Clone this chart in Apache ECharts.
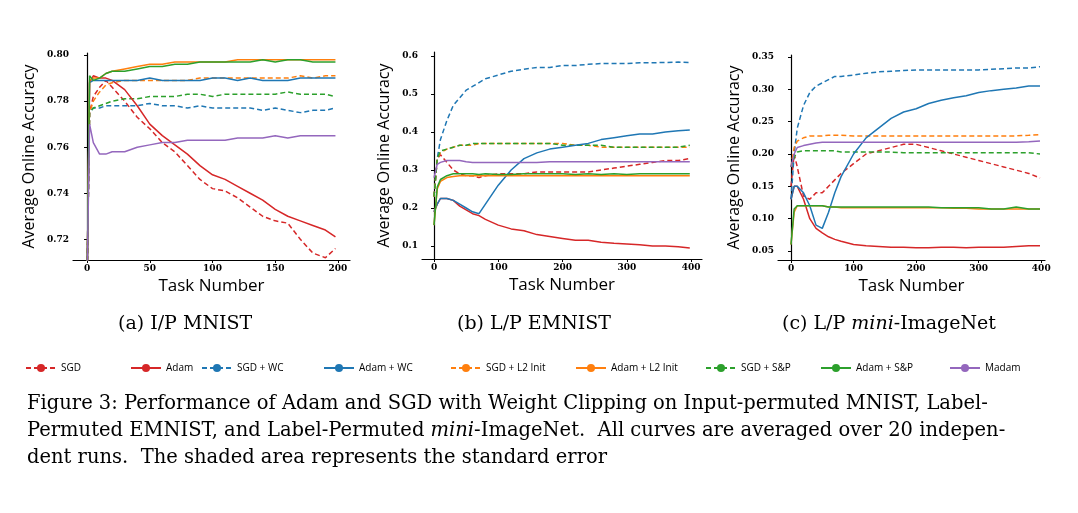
<!DOCTYPE html>
<html>
<head>
<meta charset="utf-8">
<script src="https://cdn.jsdelivr.net/npm/echarts@6/dist/echarts.min.js"></script>
<style>body{margin:0;background:#fff}#main{width:1078px;height:513px}</style>
</head>
<body>
<div id="main"></div>
<script>
var names = ["SGD", "Adam", "SGD + WC", "Adam + WC", "SGD + L2 Init", "Adam + L2 Init", "SGD + S&P", "Adam + S&P", "Madam"];
var colors = ["#d62728", "#d62728", "#1f77b4", "#1f77b4", "#ff7f0e", "#ff7f0e", "#2ca02c", "#2ca02c", "#9467bd"];
var dashed = [true, false, true, false, true, false, true, false, false];

// (a) I/P MNIST
var xA = [0, 2, 5, 10, 15, 20, 30, 40, 50, 60, 70, 80, 90, 100, 110, 120, 130, 140, 150, 160, 170, 180, 190, 198];
var dataA = [
    [0.70, 0.775, 0.782, 0.786, 0.789, 0.786, 0.780, 0.773, 0.768, 0.762, 0.758, 0.752, 0.746, 0.742, 0.741, 0.738, 0.734, 0.730, 0.728, 0.727, 0.720, 0.714, 0.712, 0.716],
    [0.70, 0.788, 0.791, 0.790, 0.790, 0.789, 0.785, 0.778, 0.770, 0.765, 0.761, 0.757, 0.752, 0.748, 0.746, 0.743, 0.740, 0.737, 0.733, 0.730, 0.728, 0.726, 0.724, 0.721],
    [0.70, 0.775, 0.777, 0.777, 0.778, 0.778, 0.778, 0.778, 0.779, 0.778, 0.778, 0.777, 0.778, 0.777, 0.777, 0.777, 0.777, 0.776, 0.777, 0.776, 0.775, 0.776, 0.776, 0.777],
    [0.70, 0.788, 0.789, 0.789, 0.789, 0.789, 0.789, 0.789, 0.790, 0.789, 0.789, 0.789, 0.789, 0.790, 0.790, 0.789, 0.790, 0.789, 0.789, 0.789, 0.790, 0.790, 0.790, 0.790],
    [0.70, 0.775, 0.780, 0.784, 0.787, 0.788, 0.789, 0.789, 0.789, 0.789, 0.789, 0.789, 0.790, 0.790, 0.790, 0.790, 0.790, 0.790, 0.790, 0.790, 0.791, 0.790, 0.791, 0.791],
    [0.70, 0.789, 0.790, 0.790, 0.792, 0.793, 0.794, 0.795, 0.796, 0.796, 0.797, 0.797, 0.797, 0.797, 0.797, 0.798, 0.798, 0.798, 0.798, 0.798, 0.798, 0.798, 0.798, 0.798],
    [0.70, 0.775, 0.777, 0.778, 0.779, 0.780, 0.781, 0.781, 0.782, 0.782, 0.782, 0.783, 0.783, 0.782, 0.783, 0.783, 0.783, 0.783, 0.783, 0.784, 0.783, 0.783, 0.783, 0.782],
    [0.70, 0.791, 0.789, 0.790, 0.792, 0.793, 0.793, 0.794, 0.795, 0.795, 0.796, 0.796, 0.797, 0.797, 0.797, 0.797, 0.797, 0.798, 0.797, 0.798, 0.798, 0.797, 0.797, 0.797],
    [0.70, 0.770, 0.762, 0.757, 0.757, 0.758, 0.758, 0.760, 0.761, 0.762, 0.762, 0.763, 0.763, 0.763, 0.763, 0.764, 0.764, 0.764, 0.765, 0.764, 0.765, 0.765, 0.765, 0.765]
];

// (b) L/P EMNIST and (c) L/P mini-ImageNet share task points
var xB = [0, 5, 10, 20, 30, 40, 50, 60, 70, 80, 100, 120, 140, 160, 180, 200, 220, 240, 260, 280, 300, 320, 340, 360, 380, 398];
var dataB = [
    [0.23, 0.33, 0.34, 0.32, 0.30, 0.29, 0.285, 0.285, 0.28, 0.285, 0.29, 0.29, 0.29, 0.295, 0.295, 0.295, 0.295, 0.295, 0.30, 0.305, 0.31, 0.315, 0.32, 0.325, 0.325, 0.33],
    [0.19, 0.21, 0.225, 0.225, 0.22, 0.205, 0.195, 0.185, 0.18, 0.17, 0.155, 0.145, 0.14, 0.13, 0.125, 0.12, 0.115, 0.115, 0.11, 0.107, 0.105, 0.103, 0.10, 0.10, 0.098, 0.095],
    [0.23, 0.33, 0.38, 0.43, 0.47, 0.49, 0.51, 0.52, 0.53, 0.54, 0.55, 0.56, 0.565, 0.57, 0.57, 0.575, 0.575, 0.578, 0.58, 0.58, 0.58, 0.582, 0.582, 0.583, 0.584, 0.583],
    [0.19, 0.21, 0.225, 0.225, 0.22, 0.21, 0.20, 0.19, 0.185, 0.21, 0.26, 0.30, 0.33, 0.345, 0.355, 0.36, 0.365, 0.37, 0.38, 0.385, 0.39, 0.395, 0.395, 0.40, 0.403, 0.405],
    [0.23, 0.33, 0.345, 0.355, 0.36, 0.365, 0.365, 0.365, 0.37, 0.37, 0.37, 0.37, 0.37, 0.37, 0.37, 0.37, 0.365, 0.365, 0.36, 0.36, 0.36, 0.36, 0.36, 0.36, 0.36, 0.36],
    [0.155, 0.25, 0.27, 0.28, 0.283, 0.285, 0.285, 0.285, 0.285, 0.285, 0.285, 0.285, 0.285, 0.285, 0.285, 0.285, 0.285, 0.285, 0.285, 0.285, 0.285, 0.285, 0.285, 0.285, 0.285, 0.285],
    [0.23, 0.33, 0.35, 0.355, 0.36, 0.365, 0.365, 0.37, 0.37, 0.37, 0.37, 0.37, 0.37, 0.37, 0.37, 0.365, 0.365, 0.365, 0.365, 0.36, 0.36, 0.36, 0.36, 0.36, 0.36, 0.365],
    [0.155, 0.255, 0.275, 0.285, 0.29, 0.29, 0.29, 0.29, 0.288, 0.29, 0.288, 0.288, 0.29, 0.29, 0.29, 0.29, 0.288, 0.29, 0.288, 0.29, 0.288, 0.29, 0.29, 0.29, 0.29, 0.29],
    [0.28, 0.315, 0.32, 0.325, 0.325, 0.325, 0.322, 0.32, 0.32, 0.32, 0.32, 0.32, 0.32, 0.32, 0.322, 0.322, 0.322, 0.322, 0.322, 0.322, 0.322, 0.322, 0.322, 0.322, 0.322, 0.322]
];
var dataC = [
    [0.15, 0.20, 0.18, 0.135, 0.13, 0.14, 0.14, 0.15, 0.16, 0.17, 0.185, 0.20, 0.205, 0.21, 0.215, 0.215, 0.21, 0.205, 0.20, 0.195, 0.19, 0.185, 0.18, 0.175, 0.17, 0.163],
    [0.13, 0.15, 0.15, 0.13, 0.10, 0.085, 0.078, 0.072, 0.068, 0.065, 0.06, 0.058, 0.057, 0.056, 0.056, 0.055, 0.055, 0.056, 0.056, 0.055, 0.056, 0.056, 0.056, 0.057, 0.058, 0.058],
    [0.13, 0.20, 0.24, 0.275, 0.295, 0.305, 0.31, 0.315, 0.32, 0.32, 0.322, 0.325, 0.327, 0.328, 0.329, 0.33, 0.33, 0.33, 0.33, 0.33, 0.33, 0.331, 0.332, 0.333, 0.333, 0.335],
    [0.13, 0.15, 0.15, 0.14, 0.12, 0.09, 0.085, 0.11, 0.14, 0.165, 0.20, 0.225, 0.24, 0.255, 0.265, 0.27, 0.278, 0.283, 0.287, 0.29, 0.295, 0.298, 0.30, 0.302, 0.305, 0.305],
    [0.18, 0.21, 0.22, 0.225, 0.228, 0.228, 0.228, 0.229, 0.229, 0.229, 0.228, 0.228, 0.228, 0.228, 0.228, 0.228, 0.228, 0.228, 0.228, 0.228, 0.228, 0.228, 0.228, 0.228, 0.229, 0.23],
    [0.06, 0.11, 0.12, 0.12, 0.12, 0.12, 0.12, 0.118, 0.118, 0.117, 0.117, 0.117, 0.117, 0.117, 0.117, 0.117, 0.117, 0.117, 0.116, 0.116, 0.115, 0.115, 0.115, 0.115, 0.115, 0.115],
    [0.18, 0.195, 0.203, 0.205, 0.205, 0.205, 0.205, 0.205, 0.205, 0.203, 0.203, 0.203, 0.203, 0.203, 0.202, 0.202, 0.202, 0.202, 0.202, 0.202, 0.202, 0.202, 0.202, 0.202, 0.202, 0.20],
    [0.06, 0.115, 0.12, 0.12, 0.12, 0.12, 0.12, 0.118, 0.118, 0.118, 0.118, 0.118, 0.118, 0.118, 0.118, 0.118, 0.118, 0.117, 0.117, 0.117, 0.117, 0.115, 0.115, 0.118, 0.115, 0.115],
    [0.18, 0.20, 0.21, 0.213, 0.215, 0.217, 0.218, 0.218, 0.218, 0.218, 0.218, 0.218, 0.218, 0.218, 0.218, 0.218, 0.218, 0.218, 0.218, 0.218, 0.218, 0.218, 0.218, 0.218, 0.219, 0.22]
];

var xTicksA = [0, 50, 100, 150, 200];
var yTicksA = [0.72, 0.74, 0.76, 0.78, 0.80];
var xTicksB = [0, 100, 200, 300, 400];
var yTicksB = [0.1, 0.2, 0.3, 0.4, 0.5, 0.6];
var yTicksC = [0.05, 0.10, 0.15, 0.20, 0.25, 0.30, 0.35];

var serif = "DejaVu Serif";
var sans = "Open Sans";

function xAxis(idx, min, max, ticks) {
    return {
        type: "value", gridIndex: idx, min: min, max: max,
        name: "Task Number", nameLocation: "middle", nameGap: 18,
        nameTextStyle: { fontFamily: sans, fontSize: 17, color: "#000" },
        axisLine: { lineStyle: { color: "#000", width: 1.2 } },
        axisTick: { show: true, length: 3, customValues: ticks, lineStyle: { color: "#000" } },
        axisLabel: { customValues: ticks, fontFamily: serif, fontSize: 9, color: "#000", margin: 4, fontWeight: "bold" },
        splitLine: { show: false }
    };
}
function yAxis(idx, min, max, ticks, digits) {
    return {
        type: "value", gridIndex: idx, min: min, max: max,
        name: "Average Online Accuracy", nameLocation: "middle", nameGap: digits == 1 ? 30 : 36,
        nameTextStyle: { fontFamily: sans, fontSize: 16, color: "#000" },
        axisLine: { show: true, lineStyle: { color: "#000", width: 1.2 } },
        axisTick: { show: true, length: 3, customValues: ticks, lineStyle: { color: "#000" } },
        axisLabel: {
            customValues: ticks, fontFamily: serif, fontSize: 9, color: "#000", margin: 4, fontWeight: "bold",
            formatter: function (v) { return v.toFixed(digits); }
        },
        splitLine: { show: false }
    };
}

var series = [];
function addPanel(idx, xs, data) {
    for (var i = 0; i < names.length; i++) {
        var pts = [];
        for (var j = 0; j < xs.length; j++) pts.push([xs[j], data[i][j]]);
        series.push({
            name: names[i], type: "line", xAxisIndex: idx, yAxisIndex: idx,
            data: pts, symbol: "none", showSymbol: false, clip: true, animation: false,
            lineStyle: { color: colors[i], width: 1.5, type: dashed[i] ? [5, 3] : "solid" },
            itemStyle: { color: colors[i] },
            z: dashed[i] ? 2 : 3
        });
    }
}
addPanel(0, xA, dataA);
addPanel(1, xB, dataB);
addPanel(2, xB, dataC);

var legendLeft = [20, 125, 196, 318, 445, 570, 700, 815, 944];
var legends = [];
for (var k = 0; k < names.length; k++) {
    legends.push({
        data: [names[k]], left: legendLeft[k], top: 358, itemWidth: 30, itemHeight: 10, itemGap: 0,
        textStyle: { fontFamily: sans, fontSize: 10, color: "#000" }, selectedMode: false
    });
}

var capStyle = { fontFamily: "DejaVu Serif", fontSize: 19, fill: "#000" };
var bodyStyle = { fontFamily: "DejaVu Serif", fontSize: 19.5, fill: "#000" };

var option = {
    backgroundColor: "#fff",
    grid: [
        { left: 73, top: 53, width: 277, height: 207 },
        { left: 422, top: 52, width: 280, height: 207 },
        { left: 778, top: 55, width: 267, height: 205 }
    ],
    xAxis: [xAxis(0, -11.2, 209.6, xTicksA), xAxis(1, -18.7, 417, xTicksB), xAxis(2, -20.8, 406, xTicksB)],
    yAxis: [yAxis(0, 0.711, 0.8009, yTicksA, 2), yAxis(1, 0.0658, 0.6105, yTicksB, 1), yAxis(2, 0.0361, 0.3531, yTicksC, 2)],
    legend: legends,
    series: series,
    graphic: [
        { type: "text", left: 118, top: 315, style: Object.assign({ text: "(a) I/P MNIST" }, capStyle) },
        { type: "text", left: 457, top: 315, style: Object.assign({ text: "(b) L/P EMNIST" }, capStyle) },
        {
            type: "text", left: 782, top: 315, style: Object.assign({
                text: "(c) L/P {i|mini}-ImageNet",
                rich: { i: { fontFamily: "DejaVu Serif", fontStyle: "italic", fontSize: 19 } }
            }, capStyle)
        },
        { type: "text", left: 27, top: 394, style: Object.assign({ text: "Figure 3: Performance of Adam and SGD with Weight Clipping on Input-permuted MNIST, Label-" }, bodyStyle) },
        {
            type: "text", left: 27, top: 421, style: Object.assign({
                text: "Permuted EMNIST, and Label-Permuted {i|mini}-ImageNet.  All curves are averaged over 20 indepen-",
                rich: { i: { fontFamily: "DejaVu Serif", fontStyle: "italic", fontSize: 19.5 } }
            }, bodyStyle)
        },
        { type: "text", left: 27, top: 448, style: Object.assign({ text: "dent runs.  The shaded area represents the standard error" }, bodyStyle) }
    ]
};

var chart = echarts.init(document.getElementById("main"));
chart.setOption(option, true);
</script>
</body>
</html>
